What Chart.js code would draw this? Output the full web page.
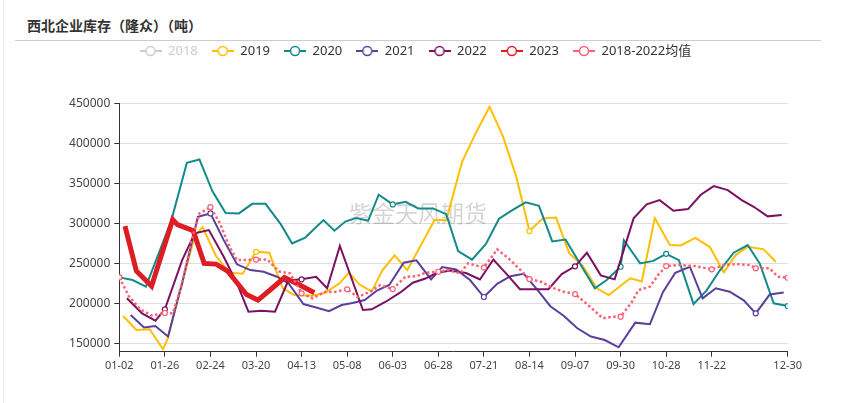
<!DOCTYPE html>
<html>
<head>
<meta charset="utf-8">
<script src="https://cdn.jsdelivr.net/npm/chart.js@4.4.0/dist/chart.umd.min.js"></script>
<style>
  html, body { margin: 0; padding: 0; background: #fff; }
  #wrap { position: relative; width: 846px; height: 403px; overflow: hidden; }
  #edge { position: absolute; left: 3px; top: 0; width: 1px; height: 403px; background: #ebebeb; }
  #title { position: absolute; left: 27px; top: 15px; line-height: 20px; font: bold 14px "Noto Sans CJK SC"; color: #333; }
  #rule { position: absolute; left: 15px; top: 40px; width: 806px; height: 1px; background: #ccc; }
  canvas { position: absolute; left: 0; top: 0; }
</style>
</head>
<body>
<div id="wrap">
  <div id="edge"></div>
  <div id="title">西北企业库存（隆众）（吨）</div>
  <div id="rule"></div>
  <canvas id="chart" width="846" height="403"></canvas>
</div>
<script>
// x axis labels and their category index on the original axis
var tickLabels = ['01-02', '01-26', '02-24', '03-20', '04-13', '05-08', '06-03', '06-28', '07-21', '08-14', '09-07', '09-30', '10-28', '11-22', '12-30'];
var tickIndex = [0, 3, 6, 9, 12, 15, 18, 21, 24, 27, 30, 33, 36, 39, 44];
// dates that carry a hollow marker
var symbolDates = ['01-02', '01-26', '02-24', '03-20', '04-13', '05-08', '06-03', '06-28', '07-21', '08-14', '09-07', '09-30', '10-28', '11-22', '12-14', '12-30'];
var yTicks = [150000, 200000, 250000, 300000, 350000, 400000, 450000];
var yMin = 139500, yMax = 450000;

var dates2019 = ['01-04', '01-11', '01-18', '01-25', '01-28', '02-02', '02-14', '02-19', '02-27', '03-06', '03-13', '03-20', '03-27', '04-03', '04-09', '04-19', '04-26', '05-04', '05-09', '05-15', '05-22', '05-28', '06-04', '06-11', '06-18', '06-26', '07-02', '07-10', '07-17', '07-24', '07-31', '08-07', '08-14', '08-21', '08-28', '09-04', '09-11', '09-18', '09-24', '10-06', '10-13', '10-21', '10-30', '11-05', '11-13', '11-21', '11-28', '12-04', '12-10', '12-18', '12-24'];
var values2019 = [184100, 166600, 167600, 142500, 156600, 195800, 284100, 295400, 258800, 238500, 237000, 264500, 263300, 219100, 210400, 209500, 213300, 225400, 238500, 223500, 215000, 241000, 260100, 241600, 270800, 304500, 304100, 377000, 413500, 445800, 409100, 359100, 290400, 306300, 307300, 262500, 246600, 218800, 210400, 231300, 227300, 306600, 272900, 272500, 282000, 270400, 238800, 260400, 270800, 267500, 252000];

var dates2020 = ['01-02', '01-09', '01-16', '01-30', '02-09', '02-17', '02-25', '03-04', '03-11', '03-18', '03-25', '04-02', '04-08', '04-15', '04-25', '05-01', '05-07', '05-13', '05-20', '05-26', '06-03', '06-10', '06-17', '06-25', '07-02', '07-08', '07-15', '07-22', '07-29', '08-05', '08-12', '08-19', '08-26', '09-02', '09-09', '09-17', '09-23', '09-30', '10-02', '10-12', '10-20', '10-28', '11-04', '11-12', '11-19', '11-26', '12-03', '12-10', '12-16', '12-23', '12-30'];
var values2020 = [232500, 229100, 221000, 302900, 375800, 380000, 340400, 312900, 312500, 324500, 324500, 299100, 275000, 282300, 304100, 290800, 302300, 306600, 303500, 335900, 323800, 327000, 318800, 318800, 311600, 265400, 254600, 274100, 305800, 316600, 326300, 321900, 277500, 279800, 251600, 218800, 229100, 245800, 279100, 250000, 253100, 262000, 254100, 199100, 215600, 241000, 263300, 272900, 250000, 200000, 196600];

var dates2021 = ['01-08', '01-15', '01-21', '01-28', '02-06', '02-16', '02-24', '03-03', '03-10', '03-17', '03-24', '03-31', '04-06', '04-14', '04-21', '04-28', '05-05', '05-11', '05-18', '05-25', '06-01', '06-09', '06-16', '06-24', '06-30', '07-07', '07-14', '07-21', '07-28', '08-04', '08-11', '08-18', '08-25', '09-01', '09-08', '09-15', '09-22', '09-29', '10-09', '10-18', '10-26', '11-02', '11-10', '11-17', '11-24', '12-01', '12-08', '12-14', '12-21', '12-28'];
var values2021 = [185400, 169800, 171600, 158500, 225400, 308300, 312500, 279100, 248800, 241600, 239500, 233300, 225400, 199100, 194800, 190100, 197900, 200400, 204100, 216000, 222900, 250800, 253800, 230000, 245400, 242300, 229100, 207900, 224500, 233900, 237000, 217600, 196400, 184400, 169100, 158500, 154100, 145000, 175800, 173800, 213900, 238300, 245800, 206300, 218800, 214500, 203800, 187500, 211000, 213500];

var dates2022 = ['01-06', '01-14', '01-21', '01-26', '02-06', '02-14', '02-23', '03-03', '03-10', '03-16', '03-23', '03-30', '04-06', '04-13', '04-21', '04-27', '05-04', '05-17', '05-22', '05-30', '06-07', '06-14', '06-21', '06-27', '07-04', '07-12', '07-19', '07-26', '08-02', '08-09', '08-16', '08-24', '08-31', '09-07', '09-13', '09-20', '09-27', '10-08', '10-16', '10-24', '11-01', '11-09', '11-16', '11-23', '11-30', '12-07', '12-13', '12-20', '12-27'];
var values2022 = [206300, 187500, 178300, 192500, 254100, 287500, 291600, 258300, 225000, 189500, 190800, 189500, 228500, 230000, 233300, 218800, 271900, 191600, 192500, 202000, 213300, 225800, 231000, 237900, 241000, 237900, 229800, 254800, 236600, 217600, 217600, 217600, 236600, 246300, 263300, 235000, 230000, 306300, 323800, 329100, 315800, 317900, 335800, 346600, 341600, 329100, 320800, 308800, 310400];

var dates2023 = ['01-05', '01-11', '01-19', '01-31', '02-03', '02-13', '02-20', '02-27', '03-05', '03-15', '03-21', '03-28', '04-04', '04-12', '04-20'];
var values2023 = [296600, 240400, 221600, 304800, 298500, 290800, 250000, 249100, 240400, 211000, 204100, 217900, 232300, 222900, 213300];

var datesAvg = ['01-02', '01-07', '01-13', '01-19', '01-26', '01-31', '02-06', '02-12', '02-17', '02-24', '03-01', '03-06', '03-10', '03-15', '03-20', '03-26', '04-01', '04-07', '04-13', '04-19', '04-26', '05-01', '05-08', '05-14', '05-21', '05-27', '06-03', '06-10', '06-16', '06-21', '06-28', '07-03', '07-09', '07-13', '07-21', '07-28', '08-04', '08-14', '08-20', '08-27', '09-01', '09-07', '09-13', '09-21', '09-26', '09-30', '10-07', '10-11', '10-18', '10-23', '10-28', '11-04', '11-13', '11-22', '11-28', '12-04', '12-11', '12-14', '12-21', '12-25', '12-30'];
var valuesAvg = [232500, 209100, 192500, 184800, 187900, 187500, 225000, 279100, 312500, 320400, 300000, 270800, 254100, 254100, 254800, 254800, 240000, 237500, 212500, 206300, 214500, 214100, 217500, 207900, 214500, 222900, 217900, 233300, 233800, 238300, 239500, 241600, 237500, 250000, 244800, 267600, 254100, 230400, 227000, 218800, 214500, 211600, 199100, 181300, 183300, 183300, 202000, 216600, 220800, 235400, 246600, 247900, 246600, 242500, 247900, 249100, 247900, 243800, 243800, 233300, 232000];

var monthStart = [0, 31, 59, 90, 120, 151, 181, 212, 243, 273, 304, 334];
function dayOfYear(md) {
  var p = md.split('-');
  return monthStart[+p[0] - 1] + (+p[1]) - 1;
}
var tickDays = tickLabels.map(dayOfYear);

// place a date on the category axis between the two labels around it
function axisPos(md) {
  var day = dayOfYear(md);
  for (var k = 0; k < tickDays.length - 1; k++) {
    if (day <= tickDays[k + 1]) {
      var f = (day - tickDays[k]) / (tickDays[k + 1] - tickDays[k]);
      return tickIndex[k] + f * (tickIndex[k + 1] - tickIndex[k]);
    }
  }
  return tickIndex[tickIndex.length - 1];
}

var series = [
  { label: '2018', color: '#cccccc', dates: [], values: [], hidden: true },
  { label: '2019', color: '#FFBF00', dates: dates2019, values: values2019, symbols: true },
  { label: '2020', color: '#138A8A', dates: dates2020, values: values2020, symbols: true },
  { label: '2021', color: '#5B3F9E', dates: dates2021, values: values2021, symbols: true },
  { label: '2022', color: '#7B1161', dates: dates2022, values: values2022, symbols: true },
  { label: '2023', color: '#DD1C24', dates: dates2023, values: values2023, width: 5 },
  { label: '2018-2022均值', color: '#FF6173', dates: datesAvg, values: valuesAvg, symbols: true, width: 2.5, dash: [2.5, 2.5] }
];

function legendIcon(color) {
  var c = document.createElement('canvas');
  c.width = 22; c.height = 14;
  var g = c.getContext('2d');
  g.strokeStyle = color;
  g.lineWidth = 2;
  g.beginPath(); g.moveTo(0, 7); g.lineTo(22, 7); g.stroke();
  g.beginPath(); g.arc(11, 7, 4.5, 0, Math.PI * 2);
  g.fillStyle = '#fff'; g.fill();
  g.lineWidth = 1.5; g.stroke();
  return c;
}
var icons = series.map(function (s) { return legendIcon(s.color); });

var legendSpace = {
  id: 'legendSpace',
  beforeInit: function (chart) {
    var fit = chart.legend.fit;
    chart.legend.fit = function () {
      fit.call(this);
      this.height += 36;
    };
  }
};

var watermark = {
  id: 'watermark',
  beforeDatasetsDraw: function (chart) {
    var ctx = chart.ctx;
    ctx.save();
    ctx.font = '23px "Noto Sans CJK SC"';
    ctx.fillStyle = 'rgba(0,0,0,0.17)';
    ctx.textAlign = 'center';
    ctx.textBaseline = 'middle';
    ctx.fillText('紫金天风期货', 418, 213);
    ctx.restore();
  }
};

new Chart(document.getElementById('chart').getContext('2d'), {
  type: 'line',
  data: {
    datasets: series.map(function (s, i) {
      return {
        label: s.label,
        data: s.dates.map(function (d, j) { return { x: axisPos(d), y: s.values[j], date: d }; }),
        borderColor: s.color,
        backgroundColor: s.color,
        borderWidth: s.width || 2,
        borderDash: s.dash || [],
        pointRadius: function (ctx) {
          return (s.symbols && ctx.raw && symbolDates.indexOf(ctx.raw.date) >= 0) ? 2.5 : 0;
        },
        pointHoverRadius: 0,
        pointBackgroundColor: '#fff',
        pointBorderColor: s.color,
        pointBorderWidth: 1.2,
        tension: 0,
        fill: false,
        hidden: !!s.hidden,
        order: -i
      };
    })
  },
  options: {
    responsive: false,
    animation: false,
    layout: { padding: { left: 43, right: 58.3, top: 30.5, bottom: 0 } },
    plugins: {
      tooltip: { enabled: false },
      legend: {
        position: 'top',
        onClick: null,
        labels: {
          usePointStyle: true,
          pointStyleWidth: 22,
          boxHeight: 13,
          padding: 14,
          color: '#333',
          font: { family: '"Noto Sans", "Noto Sans CJK SC"', size: 13 },
          generateLabels: function (chart) {
            return chart.data.datasets.map(function (ds, i) {
              return {
                text: ds.label,
                pointStyle: icons[i],
                fillStyle: '#fff',
                strokeStyle: series[i].color,
                lineWidth: 0,
                fontColor: series[i].hidden ? '#cccccc' : '#333',
                hidden: false,
                datasetIndex: i
              };
            });
          }
        }
      }
    },
    scales: {
      x: {
        type: 'linear',
        bounds: 'data',
        min: tickIndex[0],
        max: tickIndex[tickIndex.length - 1],
        afterBuildTicks: function (scale) {
          scale.ticks = tickIndex.map(function (v) { return { value: v }; });
        },
        afterFit: function (scale) { scale.height = 51.3; },
        ticks: {
          autoSkip: false,
          maxRotation: 0,
          padding: 3,
          color: '#444',
          font: { family: '"Noto Sans"', size: 11 },
          callback: function (v, i) { return tickLabels[i]; }
        },
        grid: { drawOnChartArea: false, color: '#333', tickLength: 5 },
        border: { color: '#333', width: 1 }
      },
      y: {
        bounds: 'data',
        min: yMin,
        max: yMax,
        afterBuildTicks: function (scale) {
          scale.ticks = yTicks.map(function (v) { return { value: v }; });
        },
        afterFit: function (scale) { scale.width = 76.3; },
        ticks: {
          padding: 4,
          color: '#444',
          font: { family: '"Noto Sans"', size: 12 },
          callback: function (v) { return String(v); }
        },
        grid: { color: '#dedede', tickColor: '#333', tickLength: 5 },
        border: { color: '#333', width: 1 }
      }
    }
  },
  plugins: [legendSpace, watermark]
});
</script>
</body>
</html>
